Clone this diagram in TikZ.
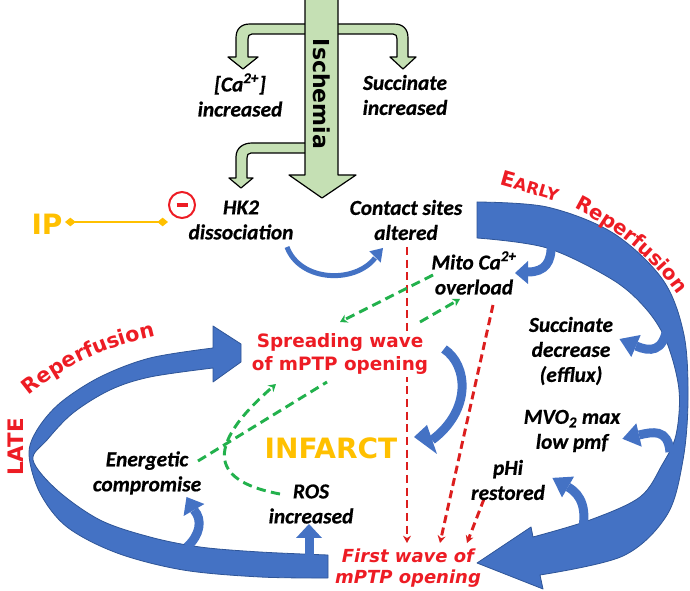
\documentclass[tikz,border=0pt]{standalone}
\usepackage{fontspec}
\setmainfont{Carlito}[BoldItalicFeatures={FakeBold=0.6}]
\newfontfamily\heavy{DejaVu Sans}
\usetikzlibrary{arrows.meta,decorations.text}
\definecolor{blueA}{RGB}{68,114,196}
\definecolor{blueE}{RGB}{47,85,151}
\definecolor{isch}{RGB}{197,224,180}
\definecolor{redT}{RGB}{237,28,36}
\definecolor{goldT}{RGB}{255,192,0}
\definecolor{greenD}{RGB}{34,177,76}
\definecolor{redD}{RGB}{220,30,30}
\pgfdeclarelayer{bg}
\pgfsetlayers{bg,main}
\begin{document}
\begin{tikzpicture}[x=0.75pt,y=-0.75pt,
  lbl/.style={font=\fontsize{16}{18.75}\selectfont\bfseries\itshape, align=center, inner sep=1pt, text=black},
  redlbl/.style={font=\heavy\bfseries\fontsize{13.8}{17.25}\selectfont, align=center, text=redT, inner sep=2pt},
  greenbox/.style={fill=isch, draw=black, line width=0.9pt, line join=round},
  bigblue/.style={fill=blueA, draw=blueE, line width=0.6pt, line join=round},
  stem/.style={draw=blueA, line width=6.75pt},
  headb/.style={fill=blueA},
  rdash/.style={draw=redD, line width=2.2pt, dash pattern=on 6pt off 3.5pt, -{Stealth[length=5.5pt,width=6pt]}},
  gdash/.style={draw=greenD, line width=2.2pt, dash pattern=on 7pt off 4pt},
  garrow/.style={gdash, -{Stealth[length=5.5pt,width=6.5pt]}}
]
\useasboundingbox (0,0) rectangle (690,591);

% ---------- ischemia arrows ----------
\path[greenbox] (306,24) -- (250,24) .. controls (241,24) and (236,29) .. (236,38) -- (236,57) -- (228,57) -- (243,69) -- (258,57) -- (248,57) -- (248,39) .. controls (248,36) and (249,34) .. (252,34) -- (306,34) -- cycle;
\path[greenbox] (336,24) -- (394,24) .. controls (403,24) and (408,29) .. (408,38) -- (408,57) -- (416,57) -- (403,69) -- (390,57) -- (397,57) -- (397,39) .. controls (397,36) and (396,34) .. (393,34) -- (336,34) -- cycle;
\path[greenbox] (306,143) -- (252,143) .. controls (243,143) and (236,148) .. (236,157) -- (236,178) -- (229,178) -- (241,188) -- (253,178) -- (247,178) -- (247,158) .. controls (247,155) and (248,153) .. (251,153) -- (306,153) -- cycle;
\path[greenbox] (305,-3) -- (305,175) -- (289,175) -- (322,198) -- (356,175) -- (338,175) -- (338,-3) -- cycle;
\node[font=\heavy\bfseries\fontsize{16.5}{18}\selectfont, rotate=-90] (ischemia) at (322,94) {Ischemia};

% ---------- text nodes ----------
\node[lbl] (ca) at (240,95) {[Ca\textsuperscript{2+}]\\increased};
\node[lbl] (succ1) at (405,95) {Succinate\\increased};
\node[lbl] (hk2) at (241,220) {HK2\\dissociation};
\node[lbl] (contact) at (406,220) {Contact sites\\altered};
\node[lbl] (mito) at (474,273) {Mito Ca\textsuperscript{2+}\\overload};
\node[lbl] (succ2) at (571,351) {Succinate\\decrease\\(efflux)};
\node[lbl] (mvo) at (572,431) {MVO\textsubscript{2} max\\low pmf};
\node[lbl] (phi) at (508,480) {pHi\\restored};
\node[lbl] (energ) at (147,473) {Energetic\\compromise};
\node[lbl] (ros) at (311,504) {ROS\\increased};
\node[redlbl, fill=white] (spread) at (340,354) {Spreading wave\\of mPTP opening};
\node[font=\heavy\bfseries\fontsize{21}{24}\selectfont, text=goldT] (infarct) at (331,448) {INFARCT};
\node[redlbl, font=\heavy\bfseries\itshape\fontsize{13.5}{15.75}\selectfont] (first) at (408,568) {First wave of\\mPTP opening};
\node[font=\heavy\bfseries\fontsize{21}{24}\selectfont, text=goldT] (ip) at (47,224) {IP};
\node[circle, draw=redT, line width=1.5pt, minimum size=19.5pt, inner sep=0pt] (minus) at (182,205) {};
\node[font=\heavy\bfseries\fontsize{16}{18}\selectfont, text=redT, rotate=-16] (early) at (530,186) {\fontsize{15.5}{18}\selectfont E\fontsize{12.5}{15}\selectfont ARLY};
\node[font=\heavy\bfseries\fontsize{16}{18}\selectfont, text=redT, rotate=90] (late) at (16,447) {LATE};

\begin{pgfonlayer}{bg}
% minus bar
\draw[redT, line width=2.4pt] (176.5,205) -- (187.5,205);
% IP inhibition line
\coordinate (ipL) at (65,222);
\coordinate (ipR) at (168,222);
\draw[goldT, line width=1.5pt, {Diamond[length=8pt,width=6.5pt]}-{Diamond[length=8pt,width=6.5pt]}] (ipL) -- (ipR);

% ---------- EARLY big arc ----------
\filldraw[bigblue] plot[smooth, tension=0.55] coordinates {(477,202) (547,207) (613,233) (663,280) (684,335) (688,400) (683,460) (667,515) (623,556) (540,575)}
  -- (543,589) -- (477,563) -- (531,527)
  -- plot[smooth, tension=0.55] coordinates {(533,537) (590,520) (640,497) (662,465) (676,435) (679,390) (667,343) (647,310) (613,280) (547,248) (477,238)} -- cycle;

% ---------- LATE big arc ----------
\filldraw[bigblue] plot[smooth, tension=0.55] coordinates {(328,555) (260,552) (200,547) (150,537) (100,520) (57,490) (33,460) (47,440) (73,413) (110,390) (150,377) (213,368)}
  -- (213,382) -- (241,362) -- (241,344) -- (213,326) --
  plot[smooth, tension=0.55] coordinates {(213,348) (150,358) (100,377) (60,403) (37,430) (29,455) (40,493) (67,527) (117,553) (183,570) (260,577) (328,578)} -- cycle;

% ---------- small blue arrows ----------
\draw[stem] (551,244) .. controls (552,262) and (545,272) .. (528,272);
\fill[headb] (528,261) -- (515,273) -- (528,284) -- cycle;
\draw[stem] (667,328) .. controls (663,352) and (650,352) .. (636,346);
\fill[headb] (640.7,335) -- (619.5,339) -- (631.3,357) -- cycle;
\draw[stem] (670,452) .. controls (668,428) and (652,432) .. (639,435);
\fill[headb] (636.3,423.3) -- (622.4,438.8) -- (641.7,446.7) -- cycle;
\draw[stem] (582,532) .. controls (587,510) and (582,495) .. (568,487);
\fill[headb] (574,476.6) -- (552.4,477.9) -- (562,497.4) -- cycle;
\draw[stem] (187,547) .. controls (200,535) and (203,520) .. (194,510);
\fill[headb] (204.4,504) -- (186.5,497) -- (183.6,516) -- cycle;
\draw[stem] (309,557) -- (309,537);
\fill[headb] (296,538) -- (309,524) -- (322,538) -- cycle;
\draw[stem] (444,349) .. controls (468,365) and (472,410) .. (432,440);
\fill[headb] (427,425) -- (414,437) -- (437,454) -- cycle;
\draw[stem, line width=3.75pt] (287,247) .. controls (300,282) and (355,284) .. (375,258);
\fill[headb] (369.3,251.3) -- (383,248) -- (380.7,262.7) -- cycle;

% ---------- red dashed ----------
\coordinate (r1a) at (407,247); \coordinate (r1b) at (407,543);
\coordinate (r2a) at (493,305); \coordinate (r2b) at (440,543);
\coordinate (r3a) at (484,499); \coordinate (r3b) at (467,543);
\draw[rdash] (r1a) -- (r1b);
\draw[rdash] (r2a) -- (r2b);
\draw[rdash] (r3a) -- (r3b);

% ---------- green dashed ----------
\coordinate (g1a) at (433,275); \coordinate (g1b) at (340,322);
\coordinate (g2a) at (420,322); \coordinate (g2b) at (460,299);
\coordinate (g3a) at (198,461); \coordinate (g3b) at (327,382);
\coordinate (g4a) at (280,494); \coordinate (g4b) at (276,384);
\draw[garrow] (g1a) -- (g1b);
\draw[garrow] (g2a) -- (g2b);
\draw[gdash] (g3a) -- (g3b);
\draw[garrow] (g4a) .. controls (215,482) and (200,450) .. (g4b);
\end{pgfonlayer}

% ---------- curved Reperfusion labels ----------
\path[decorate, decoration={text along path, text align=center, text color=redT,
  text={|\heavy\bfseries\fontsize{15}{18}\selectfont|Reperfusion}}]
  (560,201) .. controls (610,224) and (656,258) .. (686,308);
\path[decorate, decoration={text along path, text align=center, text color=redT,
  text={|\heavy\bfseries\fontsize{15.5}{18}\selectfont|Reperfusion}}]
  (18,405) .. controls (55,370) and (105,345) .. (170,333);
\end{tikzpicture}
\end{document}
